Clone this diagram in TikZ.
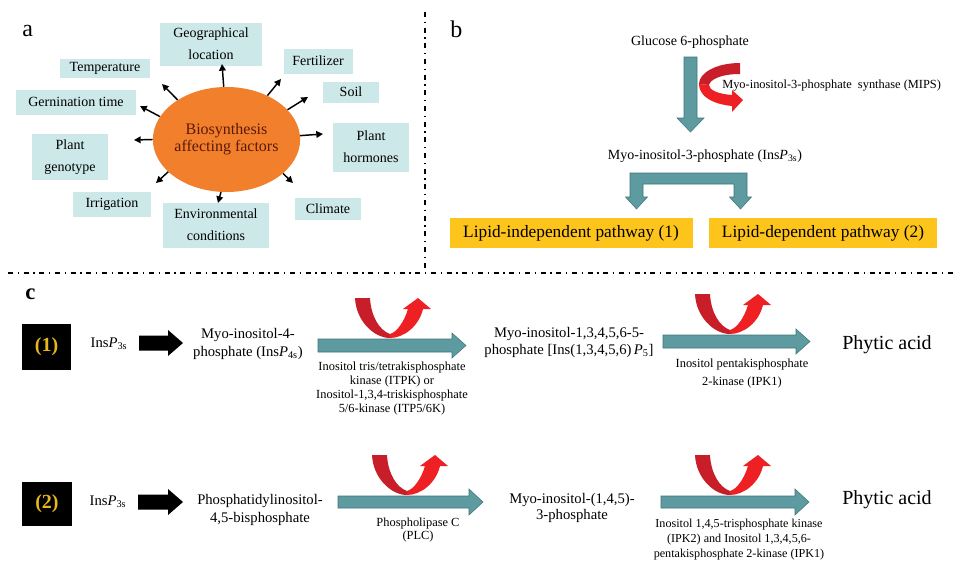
\documentclass[tikz,border=0pt]{standalone}
\usepackage{fontspec}
\setmainfont{Liberation Serif}
\usetikzlibrary{arrows.meta,shapes.geometric}
\newcommand{\pxu}[1]{#1*0.75pt}
\definecolor{boxcyan}{RGB}{205,232,232}
\definecolor{ellorange}{RGB}{242,127,43}
\definecolor{elltext}{RGB}{90,25,10}
\definecolor{pathyellow}{RGB}{253,196,28}
\definecolor{tealfill}{RGB}{93,155,161}
\definecolor{tealedge}{RGB}{62,118,124}
\definecolor{reddark}{RGB}{200,30,42}
\definecolor{redlight}{RGB}{238,32,36}
\definecolor{numgold}{RGB}{232,182,30}
\tikzset{
  factor/.style={fill=boxcyan, align=center, inner sep=0pt, font=\fontsize{10.5}{16.5}\selectfont},
  factarrow/.style={line width=1.1pt, -{Triangle[length=5pt,width=5pt]}},
  panellabel/.style={anchor=base west, inner sep=0pt, font=\fontsize{18}{20}\selectfont},
  sepline/.style={line width=1.1pt, dash pattern=on 3.75pt off 3.4pt on 1.2pt off 3.4pt},
  compound/.style={align=center, inner sep=0pt, font=\fontsize{11}{13.5}\selectfont},
  enzyme/.style={align=center, inner sep=0pt, font=\fontsize{9.3}{10.3}\selectfont},
  pathbox/.style={fill=pathyellow, inner sep=0pt, font=\fontsize{13}{15}\selectfont},
  numbox/.style={fill=black, inner sep=0pt, text=numgold, font=\fontsize{15}{17}\selectfont\bfseries},
  tealblock/.style={fill=tealfill, draw=tealedge, line width=0.4pt},
  blackblock/.style={fill=black},
  pics/blockarrow/.style n args={4}{code={
    \path[pic actions] (0,-#2) -- (#1-#4,-#2) -- (#1-#4,-#3) -- (#1,0) -- (#1-#4,#3) -- (#1-#4,#2) -- (0,#2) -- cycle;
  }},
  pics/redU/.style={code={
    \fill[reddark] (-35,-40) .. controls (-34,-17) and (-16,0) .. (0,0) -- (0,-4) .. controls (-11,-8) and (-19,-22) .. (-20,-40) -- cycle;
    \fill[redlight] (0,0) .. controls (14,0) and (29,-12) .. (33,-29) -- (41,-29) -- (28,-40) -- (13,-29) -- (18,-29) .. controls (14,-16) and (7,-6) .. (0,-4) -- cycle;
  }}
}
\begin{document}
\begin{tikzpicture}[x=0.75pt,y=-0.75pt]
\useasboundingbox (0,0) rectangle (957,561);
\fill[white] (0,0) rectangle (957,561);

% ---------- separators
\coordinate (vsTop) at (425,12);
\coordinate (vsBot) at (425,270);
\coordinate (hsL) at (8,273);
\coordinate (hsR) at (957,273);
\draw[sepline] (vsTop) -- (vsBot);
\draw[sepline] (hsL) -- (hsR);

% ---------- panel a
\node[panellabel] (la) at (22,36) {a};
\node[ellipse, fill=ellorange, minimum width=\pxu{147}, minimum height=\pxu{105}, inner sep=0pt,
      align=center, text=elltext, font=\fontsize{12}{13}\selectfont] (ell) at (226.5,139.5)
      {Biosynthesis\\affecting factors};

\node[factor, minimum width=\pxu{102}, minimum height=\pxu{43}] (geo) at (211,44) {Geographical\\location};
\node[factor, minimum width=\pxu{69}, minimum height=\pxu{25}] (fert) at (318,61) {Fertilizer};
\node[factor, minimum width=\pxu{56}, minimum height=\pxu{21}] (soil) at (351,92) {Soil};
\node[factor, minimum width=\pxu{76}, minimum height=\pxu{49}] (horm) at (371,147) {Plant\\hormones};
\node[factor, minimum width=\pxu{66}, minimum height=\pxu{22}] (clim) at (328,209) {Climate};
\node[factor, minimum width=\pxu{106}, minimum height=\pxu{45}] (env) at (216,225) {Environmental\\conditions};
\node[factor, minimum width=\pxu{78}, minimum height=\pxu{25}] (irr) at (112,204) {Irrigation};
\node[factor, minimum width=\pxu{76}, minimum height=\pxu{46}] (geno) at (70,157) {Plant\\genotype};
\node[factor, minimum width=\pxu{120}, minimum height=\pxu{25}] (germ) at (76,102) {Gernination time};
\node[factor, minimum width=\pxu{90}, minimum height=\pxu{19}] (temp) at (105,68) {Temperature};

\coordinate (tgeo) at (222,64);
\coordinate (tfert) at (281,79);
\coordinate (tsoil) at (308,97);
\coordinate (thorm) at (323,134);
\coordinate (tclim) at (293,183);
\coordinate (tenv) at (218,203);
\coordinate (tirr) at (156,183);
\coordinate (tgeno) at (134,140);
\coordinate (tgerm) at (140,106);
\coordinate (ttemp) at (162,84);
\draw[factarrow] (ell.93) -- (tgeo);
\draw[factarrow] (ell.47) -- (tfert);
\draw[factarrow] (ell.26) -- (tsoil);
\draw[factarrow] (ell.3) -- (thorm);
\draw[factarrow] (ell.-31) -- (tclim);
\draw[factarrow] (ell.-96) -- (tenv);
\draw[factarrow] (ell.209) -- (tirr);
\draw[factarrow] (ell.180) -- (tgeno);
\draw[factarrow] (ell.161) -- (tgerm);
\draw[factarrow] (ell.141) -- (ttemp);

% ---------- panel b
\node[panellabel] (lb) at (450,37) {b};
\node[compound, font=\fontsize{10.5}{12}\selectfont] (g6p) at (690,42) {Glucose 6-phosphate};
\pic[tealblock, rotate=-90] (varrow) at (690.5,57) {blockarrow={75}{6.5}{13.5}{14}};
% MIPS curved arrow
\fill[reddark] (740,63) .. controls (716,63) and (699,73) .. (699,84) -- (709,85) .. controls (710,80) and (720,74) .. (740,74) -- cycle;
\fill[redlight] (699,84) .. controls (699,96) and (712,104) .. (732,106) -- (732,112) -- (743,100) -- (732,90) -- (732,95) .. controls (718,94) and (709,90) .. (709,85) -- cycle;
\node[enzyme, anchor=west] (mips) at (722,86) {Myo-inositol-3-phosphate~ synthase (MIPS)};
\node[compound, font=\fontsize{10.5}{12}\selectfont] (ins3) at (705,156) {Myo-inositol-3-phosphate (Ins\textit{P}\textsubscript{3s})};
\path[tealblock] (630,173) -- (747,173) -- (747,197) -- (751.5,197) -- (740.5,209) -- (729.5,197)
   -- (734,197) -- (734,184) -- (643,184) -- (643,197) -- (647.5,197) -- (636.5,209) -- (625.5,197)
   -- (630,197) -- cycle;
\node[pathbox, minimum width=\pxu{243}, minimum height=\pxu{30}] (lipi) at (571,233) {Lipid-independent pathway (1)};
\node[pathbox, minimum width=\pxu{228}, minimum height=\pxu{30}] (lipd) at (823,233) {Lipid-dependent pathway (2)};

% ---------- panel c
\node[panellabel, font=\fontsize{17}{19}\selectfont\bfseries] (lc) at (25,299) {c};

% row 1
\node[numbox, minimum width=\pxu{49}, minimum height=\pxu{46}] (n1) at (46.5,347) {(1)};
\node[compound] (r1a) at (109,344) {Ins\textit{P}\textsubscript{3s}};
\pic[blackblock] (r1k) at (139,343) {blockarrow={44}{7.5}{13}{15}};
\node[compound] (r1b) at (248,344) {Myo-inositol-4-\\phosphate (Ins\textit{P}\textsubscript{4s})};
\pic[tealblock] (r1t1) at (318,345.5) {blockarrow={148}{6.5}{12.5}{14}};
\pic (r1u1) at (390,338) {redU};
\node[enzyme, anchor=north] (r1e1) at (392,362) {Inositol tris/tetrakisphosphate\\kinase (ITPK) or\\Inositol-1,3,4-triskisphosphate\\5/6-kinase (ITP5/6K)};
\node[compound, font=\fontsize{11}{12.75}\selectfont] (r1c) at (569,342) {Myo-inositol-1,3,4,5,6-5-\\phosphate [Ins(1,3,4,5,6)\,\textit{P}\textsubscript{5}]};
\pic[tealblock] (r1t2) at (663,341.5) {blockarrow={147}{6.5}{12.5}{14}};
\pic (r1u2) at (730,334) {redU};
\node[enzyme, font=\fontsize{9.3}{13.5}\selectfont] (r1e2) at (742,374) {Inositol pentakisphosphate\\2-kinase (IPK1)};
\node[compound, font=\fontsize{15}{17}\selectfont] (r1p) at (887,345) {Phytic acid};

% row 2
\node[numbox, minimum width=\pxu{50}, minimum height=\pxu{44}] (n2) at (47,504) {(2)};
\node[compound] (r2a) at (108,502) {Ins\textit{P}\textsubscript{3s}};
\pic[blackblock] (r2k) at (138,502) {blockarrow={45}{7.5}{13}{15}};
\node[compound] (r2b) at (260,510) {Phosphatidylinositol-\\4,5-bisphosphate};
\pic[tealblock] (r2t1) at (338,502) {blockarrow={145}{6}{13}{14}};
\pic (r2u1) at (407,495) {redU};
\node[enzyme, font=\fontsize{9.3}{9.75}\selectfont] (r2e1) at (418,530) {Phospholipase C\\(PLC)};
\node[compound, font=\fontsize{11}{12}\selectfont] (r2c) at (572,508) {Myo-inositol-(1,4,5)-\\3-phosphate};
\pic[tealblock] (r2t2) at (661,502) {blockarrow={148}{6}{13}{14}};
\pic (r2u2) at (730,495) {redU};
\node[enzyme, font=\fontsize{9.1}{11.25}\selectfont] (r2e2) at (739,540) {Inositol 1,4,5-trisphosphate kinase\\(IPK2) and Inositol 1,3,4,5,6-\\pentakisphosphate 2-kinase (IPK1)};
\node[compound, font=\fontsize{15}{17}\selectfont] (r2p) at (887,500) {Phytic acid};
\end{tikzpicture}
\end{document}
